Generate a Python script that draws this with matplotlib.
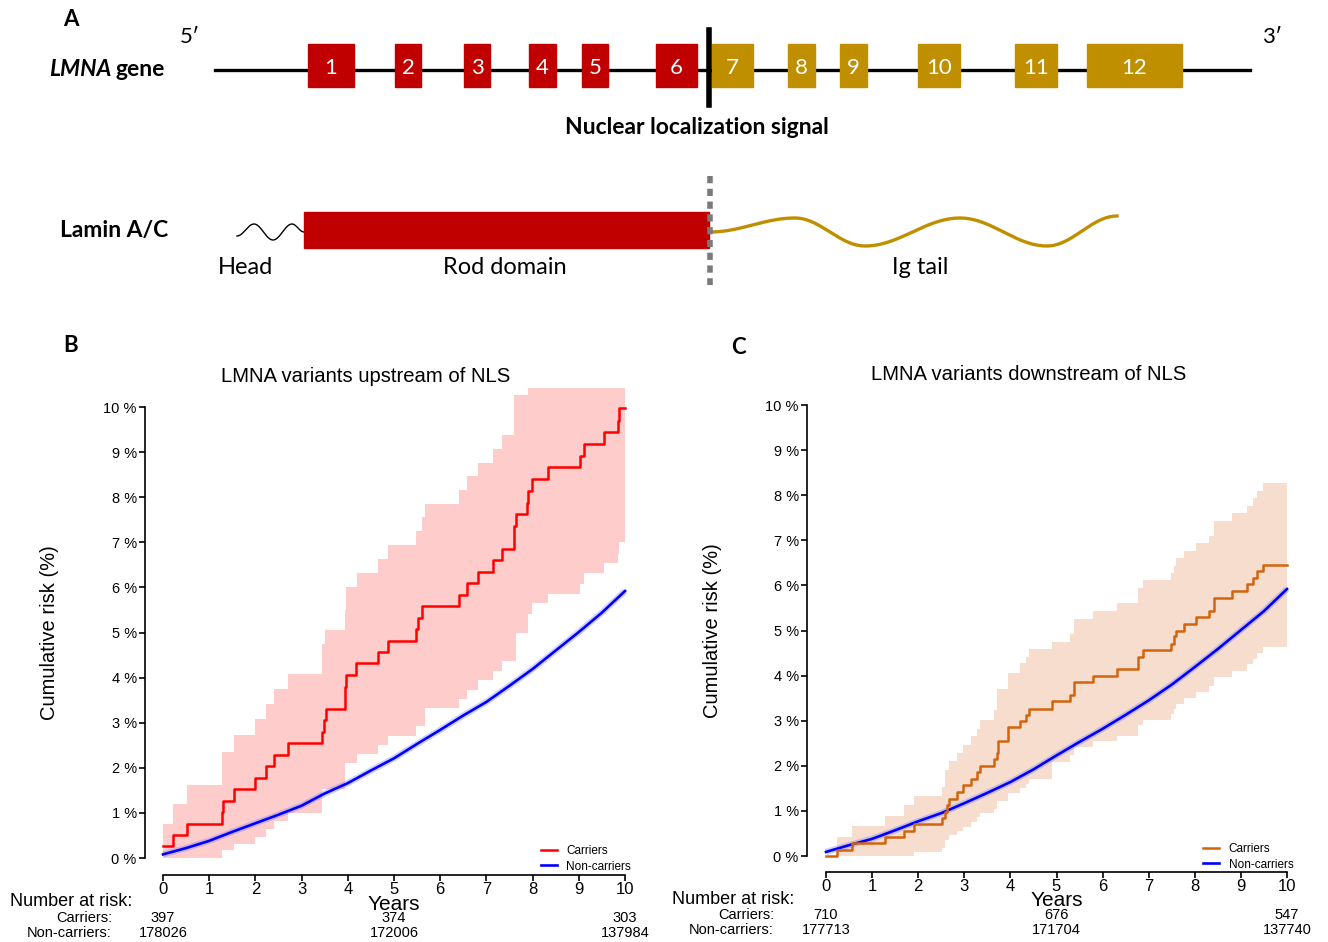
import numpy as np
import matplotlib
matplotlib.use("Agg")
import matplotlib.pyplot as plt
from matplotlib.patches import Rectangle
from matplotlib.lines import Line2D
from matplotlib.transforms import blended_transform_factory

# ---------------- panel A: LMNA schematic (page pixel units) ----------------
exon_names = [str(i) for i in range(1, 13)]
exon_start = [308, 395, 464, 529, 582, 656, 712, 788, 840, 918, 1015, 1087]
exon_end = [354, 421, 490, 556, 608, 697, 753, 815, 867, 960, 1057, 1182]
exon_upstream = [True] * 6 + [False] * 6

# turning points of the two wavy segments of the protein
head_x = [237, 254, 273, 292, 304]
head_y = [236, 224, 240, 224, 232]
ig_x = [710, 795, 865, 960, 1047, 1117]
ig_y = [232, 218, 246, 218, 246, 216]

# ---------------- panel B: upstream of NLS ----------------
b_car_t = [0, 0.21, 0.52, 1.28, 1.30, 1.53, 1.99, 2.23, 2.40, 2.70,
           3.45, 3.48, 3.53, 3.93, 3.95, 3.97, 4.18, 4.65, 4.88, 5.47,
           5.53, 5.60, 6.41, 6.58, 6.82, 7.15, 7.33, 7.60, 7.63, 7.88,
           7.90, 7.98, 8.34, 9.02, 9.11, 9.54, 9.84, 9.88]
b_car_v = [0.26, 0.51, 0.76, 1.02, 1.27, 1.52, 1.78, 2.03, 2.29, 2.54,
           2.80, 3.05, 3.30, 3.55, 3.80, 4.06, 4.32, 4.57, 4.82, 5.07,
           5.33, 5.58, 5.83, 6.09, 6.34, 6.60, 6.86, 7.37, 7.63, 7.88,
           8.14, 8.40, 8.66, 8.92, 9.17, 9.44, 9.70, 9.97]
b_up_t = [0, 0.21, 0.52, 1.28, 1.53, 1.99, 2.23, 2.40, 2.70, 3.45, 3.50, 3.93, 3.96,
          4.19, 4.65, 4.88, 5.47, 5.60, 5.67, 6.41, 6.58, 6.82, 7.15, 7.33, 7.60, 7.90]
b_up_v = [0.75, 1.20, 1.62, 2.36, 2.72, 3.08, 3.41, 3.75, 4.08, 4.74, 5.06, 5.49, 6.00,
          6.31, 6.62, 6.93, 7.24, 7.55, 7.85, 8.16, 8.46, 8.76, 9.06, 9.37, 10.26, 10.43]
b_lo_t = [0, 1.28, 1.53, 1.99, 2.23, 2.40, 2.70, 3.45, 3.95, 4.19, 4.65, 4.88, 5.47, 5.67,
          6.41, 6.58, 6.82, 7.15, 7.33, 7.63, 7.90, 7.98, 8.34, 9.02, 9.11, 9.54, 9.84, 9.88]
b_lo_v = [0, 0.18, 0.32, 0.47, 0.64, 0.82, 1.00, 1.54, 2.10, 2.31, 2.51, 2.71, 2.92, 3.32,
          3.53, 3.73, 3.94, 4.14, 4.37, 5.00, 5.42, 5.65, 5.86, 6.08, 6.31, 6.53, 6.75, 7.00]
b_non_v = [0.08, 0.22, 0.38, 0.58, 0.77, 0.96, 1.16, 1.43, 1.66, 1.94, 2.21,
           2.53, 2.84, 3.16, 3.46, 3.82, 4.19, 4.60, 5.01, 5.44, 5.92]
b_risk_car = ["397", "374", "303"]
b_risk_non = ["178026", "172006", "137984"]

# ---------------- panel C: downstream of NLS ----------------
c_car_t = [0, 0.23, 0.56, 1.28, 1.70, 1.91, 2.51, 2.59, 2.62, 2.67,
           2.85, 2.97, 3.15, 3.28, 3.34, 3.64, 3.71, 3.73, 3.94, 4.20,
           4.33, 4.41, 4.90, 5.29, 5.38, 5.80, 6.31, 6.76, 6.87, 7.49,
           7.55, 7.60, 7.77, 8.02, 8.30, 8.42, 8.81, 9.14, 9.26, 9.35, 9.49]
c_car_v = [0, 0.14, 0.28, 0.42, 0.56, 0.70, 0.84, 0.98, 1.12, 1.27,
           1.42, 1.57, 1.71, 1.86, 1.99, 2.14, 2.28, 2.56, 2.86, 2.99,
           3.13, 3.27, 3.43, 3.56, 3.85, 4.00, 4.14, 4.42, 4.57, 4.71,
           4.87, 5.00, 5.14, 5.29, 5.44, 5.72, 5.87, 6.02, 6.16, 6.31, 6.45]
c_up_t = [0, 0.23, 0.56, 1.28, 1.70, 1.91, 2.51, 2.59, 2.67, 2.85,
          2.97, 3.15, 3.28, 3.34, 3.64, 3.71, 3.94, 4.20, 4.33, 4.41,
          4.90, 5.29, 5.38, 5.80, 6.31, 6.76, 6.87, 7.49, 7.55, 7.60,
          7.77, 8.02, 8.30, 8.42, 8.81, 9.14, 9.26, 9.35, 9.49]
c_up_v = [0, 0.42, 0.67, 0.89, 1.12, 1.33, 1.52, 1.90, 2.10, 2.28,
          2.47, 2.67, 2.82, 3.02, 3.23, 3.71, 4.06, 4.28, 4.42, 4.58,
          4.75, 4.93, 5.26, 5.44, 5.60, 5.94, 6.11, 6.27, 6.44, 6.61,
          6.77, 6.94, 7.10, 7.43, 7.60, 7.77, 7.94, 8.10, 8.26]
c_lo_t = [0, 1.91, 2.51, 2.59, 2.67, 2.85, 2.97, 3.15, 3.28, 3.34,
          3.64, 3.71, 3.94, 4.20, 4.33, 4.41, 4.90, 5.29, 5.38, 5.80,
          6.31, 6.76, 6.87, 7.49, 7.55, 7.60, 7.77, 8.02, 8.30, 8.42,
          8.81, 9.14, 9.26, 9.35, 9.49]
c_lo_v = [0, 0.09, 0.18, 0.35, 0.46, 0.55, 0.65, 0.75, 0.86, 0.95,
          1.05, 1.23, 1.40, 1.50, 1.60, 1.70, 2.08, 2.23, 2.41, 2.55,
          2.66, 2.90, 3.02, 3.14, 3.26, 3.38, 3.51, 3.63, 3.76, 3.98,
          4.11, 4.25, 4.37, 4.50, 4.63]
c_non_v = [0.09, 0.24, 0.38, 0.57, 0.77, 0.95, 1.17, 1.40, 1.64, 1.92, 2.23,
           2.53, 2.82, 3.13, 3.45, 3.80, 4.19, 4.59, 5.01, 5.43, 5.92]
c_risk_car = ["710", "676", "547"]
c_risk_non = ["177713", "171704", "137740"]

non_t = np.arange(0, 10.01, 0.5)
risk_years = [0, 5, 10]

W, H = 1328, 942
RED = "#C00000"
GOLD = "#BF8F00"
DIAG_FONT = "Lato"
PLOT_FONT = "Liberation Sans"

fig = plt.figure(figsize=(W / 100, H / 100), dpi=100)
page = fig.add_axes([0, 0, 1, 1])
page.set_xlim(0, W)
page.set_ylim(H, 0)
page.axis("off")


def wave(xs, ys, n=40):
    px, py = [], []
    for i in range(len(xs) - 1):
        s = np.linspace(0, 1, n)
        px.append(xs[i] + (xs[i + 1] - xs[i]) * s)
        py.append(ys[i] + (ys[i + 1] - ys[i]) * (1 - np.cos(np.pi * s)) / 2)
    return np.concatenate(px), np.concatenate(py)


# ---- panel A ----
page.text(63, 20, "A", fontsize=16, fontweight="bold", family=DIAG_FONT, va="center")
page.text(190, 37, "5\u2032", fontsize=16, family=DIAG_FONT, ha="center", va="center")
page.text(1272, 37, "3\u2032", fontsize=16, family=DIAG_FONT, ha="center", va="center")
page.text(111, 70, "LMNA", fontsize=16.5, fontweight="bold", fontstyle="italic",
          family=DIAG_FONT, ha="right", va="center")
page.text(116, 70, "gene", fontsize=16.5, fontweight="bold", family=DIAG_FONT,
          ha="left", va="center")
page.plot([215, 1250], [70, 70], color="black", lw=2.4, zorder=1)
for name, x0, x1, up in zip(exon_names, exon_start, exon_end, exon_upstream):
    page.add_patch(Rectangle((x0, 44), x1 - x0, 43, color=RED if up else GOLD, zorder=2))
    page.text((x0 + x1) / 2, 68, name, color="white", fontsize=16, family=DIAG_FONT,
              ha="center", va="center", zorder=3)
page.plot([709, 709], [30, 105], color="black", lw=4, zorder=4)
page.text(697, 128, "Nuclear localization signal", fontsize=16.5, fontweight="bold",
          family=DIAG_FONT, ha="center", va="center")

page.text(60, 230, "Lamin A/C", fontsize=16.5, fontweight="bold", family=DIAG_FONT,
          va="center")
hx, hy = wave(head_x, head_y)
page.plot(hx, hy, color="black", lw=1.0)
page.add_patch(Rectangle((304, 212), 405, 36, color=RED, zorder=2))
gx, gy = wave(ig_x, ig_y)
page.plot(gx, gy, color=GOLD, lw=2.4)
page.plot([710, 710], [176, 285], color="#7a7a7a", lw=4, ls=(0, (1.3, 1.0)), zorder=4)
for label, x in [("Head", 245), ("Rod domain", 505), ("Ig tail", 920)]:
    page.text(x, 268, label, fontsize=17, family=DIAG_FONT, ha="center", va="center")


# ---- panels B and C ----
def on_grid(t_src, v_src, t_new):
    idx = np.searchsorted(t_src, t_new, side="right") - 1
    return np.asarray(v_src)[idx]


def km_panel(spec, car_t, car_v, up_t, up_v, lo_t, lo_v, non_v,
             line_col, band_col, band_alpha, risk_car, risk_non, letter, letter_xy,
             title, title_x):
    yspine, x0, x10, y0, y10, xspine = spec
    ppx = (x10 - x0) / 10.0
    ppy = (y0 - y10) / 10.0
    xlo = (yspine - x0) / ppx
    xhi = 10.3
    ylo = -(xspine - y0) / ppy
    yhi = 10.45
    left = yspine
    right = x0 + xhi * ppx
    top = y0 - yhi * ppy
    ax = fig.add_axes([left / W, (H - xspine) / H, (right - left) / W, (xspine - top) / H])
    ax.set_facecolor("none")
    ax.set_xlim(xlo, xhi)
    ax.set_ylim(ylo, yhi)

    grid = np.unique(np.concatenate([up_t, lo_t, [10.0]]))
    ax.fill_between(grid, on_grid(lo_t, lo_v, grid), on_grid(up_t, up_v, grid),
                    step="post", color=band_col, alpha=band_alpha, lw=0)
    ax.plot(non_t, non_v, color="#7777ff", lw=4.5, alpha=0.35, solid_capstyle="butt")
    ax.plot(non_t, non_v, color="#0000ff", lw=1.9)
    ax.step(np.append(car_t, 10), np.append(car_v, car_v[-1]), where="post",
            color=line_col, lw=1.8)

    for s in ["top", "right"]:
        ax.spines[s].set_visible(False)
    ax.spines["left"].set_bounds(0, 10)
    ax.spines["bottom"].set_bounds(0, 10)
    for s in ["left", "bottom"]:
        ax.spines[s].set_linewidth(1.2)
    ax.set_xticks(range(11))
    ax.set_xticklabels([str(i) for i in range(11)], fontsize=12, family=PLOT_FONT)
    ax.set_yticks(range(11))
    ax.set_yticklabels([f"{i} %" for i in range(11)], fontsize=10.5, family=PLOT_FONT)
    ax.tick_params(direction="out", length=4, width=1.2, pad=2)
    ax.tick_params(axis="x", pad=1)

    handles = [Line2D([], [], color=line_col, lw=1.8), Line2D([], [], color="#0000ff", lw=1.9)]
    ax.legend(handles, ["Carriers", "Non-carriers"], loc="upper left",
              bbox_to_anchor=(x0 + 8.4 * ppx - 10, y0 - 13), bbox_transform=page.transData,
              frameon=False, borderpad=0, borderaxespad=0, handlelength=1.35,
              handletextpad=0.8, labelspacing=0.3, prop={"family": PLOT_FONT, "size": 8.5})

    tr = blended_transform_factory(ax.transData, page.transData)
    page.text(letter_xy[0], letter_xy[1], letter, fontsize=16, fontweight="bold",
              family=DIAG_FONT, va="center")
    page.text(title_x, y10 - 31, title, fontsize=14.6, family=PLOT_FONT,
              ha="center", va="center")
    page.text(yspine - 95, (y0 + y10) / 2, "Cumulative risk (%)", fontsize=14.5,
              family=PLOT_FONT, rotation=90, ha="center", va="center")
    page.text(5, xspine + 29, "Years", transform=tr, fontsize=15, family=PLOT_FONT,
              ha="center", va="center")
    page.text(yspine - 135, xspine + 27, "Number at risk:", fontsize=13,
              family=PLOT_FONT, ha="left", va="center")
    page.text(yspine - 33, xspine + 43, "Carriers:", fontsize=10.5, family=PLOT_FONT,
              ha="right", va="center")
    page.text(yspine - 33, xspine + 58, "Non-carriers:", fontsize=10.5, family=PLOT_FONT,
              ha="right", va="center")
    for yr, a, b in zip(risk_years, risk_car, risk_non):
        page.text(yr, xspine + 43, a, transform=tr, fontsize=10.5, family=PLOT_FONT,
                  ha="center", va="center")
        page.text(yr, xspine + 58, b, transform=tr, fontsize=10.5, family=PLOT_FONT,
                  ha="center", va="center")
    return ax


km_panel((145, 163, 625, 858, 407, 875), b_car_t, b_car_v, b_up_t, b_up_v,
         b_lo_t, b_lo_v, b_non_v, "#ff0000", "#ff0000", 0.2,
         b_risk_car, b_risk_non, "B", (63, 346), "LMNA variants upstream of NLS", 366)
km_panel((807, 826, 1287, 856, 405, 872), c_car_t, c_car_v, c_up_t, c_up_v,
         c_lo_t, c_lo_v, c_non_v, "#d2640e", "#e07b39", 0.25,
         c_risk_car, c_risk_non, "C", (731, 348), "LMNA variants downstream of NLS", 1029)

fig.savefig("out.png", dpi=100)
